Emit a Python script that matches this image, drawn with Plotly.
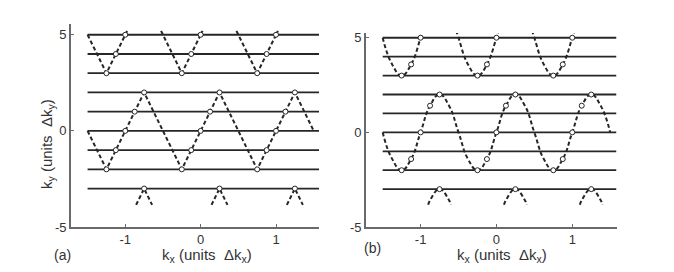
import plotly.graph_objects as go

# ---- data ----
grid_ky = [5, 4, 3, 2, 1, 0, -1, -2, -3]
grid_kx_start = -1.5
grid_kx_end = 1.58

# (a) triangular trajectory (vertices)
a_main_kx = [-1.5, -1.25, -0.75, -0.25, 0.25, 0.75, 1.25, 1.5]
a_main_ky = [0, -2, 2, -2, 2, -2, 2, 0]
a_up_kx = [-1.5, -1.25, -0.975, None, -0.525, -0.25, 0.025, None, 0.475, 0.75, 1.025]
a_up_ky = [5, 3, 5.2, None, 5.2, 3, 5.2, None, 5.2, 3, 5.2]
a_lo_kx = [-0.856, -0.75, -0.644, None, 0.144, 0.25, 0.356, None, 1.144, 1.25, 1.356]
a_lo_ky = [-3.85, -3, -3.85, None, -3.85, -3, -3.85, None, -3.85, -3, -3.85]
a_pts_kx = [-1.25, -1.125, -1.0, -0.875, -0.75, -0.25, -0.125, 0.0, 0.125, 0.25,
            0.75, 0.875, 1.0, 1.125, 1.25,
            -1.25, -1.125, -1.0, -0.25, -0.125, 0.0, 0.75, 0.875, 1.0,
            -0.75, 0.25, 1.25]
a_pts_ky = [-2, -1, 0, 1, 2, -2, -1, 0, 1, 2, -2, -1, 0, 1, 2,
            3, 4, 5, 3, 4, 5, 3, 4, 5,
            -3, -3, -3]

# (b) sinusoidal trajectory
b_main_kx = [-1.5, -1.375, -1.25, -1.125, -1.0, -0.875, -0.75, -0.625, -0.5,
             -0.375, -0.25, -0.125, 0.0, 0.125, 0.25, 0.375, 0.5,
             0.625, 0.75, 0.875, 1.0, 1.125, 1.25, 1.375, 1.5]
b_main_ky = [0, -1.41, -2, -1.41, 0, 1.41, 2, 1.41, 0,
             -1.41, -2, -1.41, 0, 1.41, 2, 1.41, 0,
             -1.41, -2, -1.41, 0, 1.41, 2, 1.41, 0]
b_up_segs_kx = [[-1.5, -1.375, -1.25, -1.125, -1.0, -0.97],
                [-0.53, -0.5, -0.375, -0.25, -0.125, 0.0, 0.03],
                [0.47, 0.5, 0.625, 0.75, 0.875, 1.0, 1.03]]
b_up_segs_ky = [[5, 3.59, 3, 3.59, 5, 5.37],
                [5.37, 5, 3.59, 3, 3.59, 5, 5.37],
                [5.37, 5, 3.59, 3, 3.59, 5, 5.37]]
b_lo_segs_kx = [[-0.9, -0.875, -0.75, -0.625, -0.6],
                [0.1, 0.125, 0.25, 0.375, 0.4],
                [1.1, 1.125, 1.25, 1.375, 1.4]]
b_lo_segs_ky = [[-3.82, -3.59, -3, -3.59, -3.82]] * 3
b_pts_kx = [-1.25, -1.125, -1.0, -0.875, -0.75, -0.25, -0.125, 0.0, 0.125, 0.25,
            0.75, 0.875, 1.0, 1.125, 1.25,
            -1.25, -1.125, -1.0, -0.25, -0.125, 0.0, 0.75, 0.875, 1.0,
            -0.75, 0.25, 1.25]
b_pts_ky = [-2, -1.41, 0, 1.41, 2, -2, -1.41, 0, 1.41, 2, -2, -1.41, 0, 1.41, 2,
            3, 3.59, 5, 3, 3.59, 5, 3, 3.59, 5,
            -3, -3, -3]

tick_x = [-1, 0, 1]
tick_x_text = ["-1", "0", "1"]
tick_y = [-5, 0, 5]
tick_y_text = ["-5", "0", "5"]

# ---- styles ----
INK = "#262626"
AXIS = "#6a6a6a"
TXT = "#333333"
FONT = "Liberation Sans"
DASH = "4px,2.6px"

fig = go.Figure()

def grid(xa, ya):
    xs, ys = [], []
    for k in grid_ky:
        xs += [grid_kx_start, grid_kx_end, None]
        ys += [k, k, None]
    fig.add_trace(go.Scatter(x=xs, y=ys, mode="lines", xaxis=xa, yaxis=ya,
                             line=dict(color=INK, width=1.8), hoverinfo="skip",
                             showlegend=False))

def dashed(xs, ys, xa, ya, shape="linear"):
    fig.add_trace(go.Scatter(x=xs, y=ys, mode="lines", xaxis=xa, yaxis=ya,
                             line=dict(color=INK, width=2, dash=DASH, shape=shape,
                                       smoothing=1.3 if shape == "spline" else None),
                             showlegend=False, hoverinfo="skip"))

def points(xs, ys, xa, ya):
    fig.add_trace(go.Scatter(x=xs, y=ys, mode="markers", xaxis=xa, yaxis=ya,
                             marker=dict(symbol="circle", size=5, color="white",
                                         line=dict(color=INK, width=1)),
                             showlegend=False, hoverinfo="skip"))

# panel (a)
grid("x", "y")
dashed(a_main_kx, a_main_ky, "x", "y")
dashed(a_up_kx, a_up_ky, "x", "y")
dashed(a_lo_kx, a_lo_ky, "x", "y")
points(a_pts_kx, a_pts_ky, "x", "y")

# panel (b)
grid("x2", "y2")
dashed(b_main_kx, b_main_ky, "x2", "y2", "spline")
for sx, sy in zip(b_up_segs_kx, b_up_segs_ky):
    dashed(sx, sy, "x2", "y2", "spline")
for sx, sy in zip(b_lo_segs_kx, b_lo_segs_ky):
    dashed(sx, sy, "x2", "y2", "spline")
points(b_pts_kx, b_pts_ky, "x2", "y2")

# the page body adds an 8 px offset; work in screen pixels and convert
OFF = 8
W, H = 674 - OFF, 272 - OFF

def px(x):
    return (x - OFF) / W

def py(y):
    return 1 - (y - OFF) / H

axis_common = dict(showline=True, linecolor=AXIS, linewidth=1.6, mirror=False,
                   showgrid=False, zeroline=False, ticks="inside", ticklen=3,
                   tickwidth=1.2, tickcolor=AXIS, automargin=False,
                   tickfont=dict(family=FONT, size=13, color=TXT))

def label(text, x, y, angle=0, size=14):
    return dict(text=text, x=px(x), y=py(y), xref="paper", yref="paper",
                xanchor="center", yanchor="middle", showarrow=False,
                textangle=angle, font=dict(family=FONT, size=size, color=TXT))

fig.update_layout(
    width=W, height=H,
    margin=dict(l=0, r=0, t=0, b=0),
    paper_bgcolor="white", plot_bgcolor="white",
    template="none",
    xaxis=dict(domain=[px(71), px(319)], range=[-1.72, 1.57], anchor="y",
               tickvals=tick_x, ticktext=tick_x_text, **axis_common),
    yaxis=dict(domain=[py(227), py(24)], range=[-5, 5.56], anchor="x",
               tickvals=tick_y, ticktext=tick_y_text, **axis_common),
    xaxis2=dict(domain=[px(366), px(617)], range=[-1.72, 1.59], anchor="y2",
                tickvals=tick_x, ticktext=tick_x_text, **axis_common),
    yaxis2=dict(domain=[py(227), py(33)], range=[-5, 5.25], anchor="x2",
                tickvals=tick_y, ticktext=tick_y_text, **axis_common),
    annotations=[
        label("k<sub>y</sub> (units&nbsp;&nbsp;Δk<sub>y</sub>)", 47, 144, -90, 15),
        label("k<sub>x</sub> (units&nbsp;&nbsp;Δk<sub>x</sub>)", 207, 255, 0, 15),
        label("k<sub>x</sub> (units&nbsp;&nbsp;Δk<sub>x</sub>)", 502, 255, 0, 15),
        label("(a)", 62, 255),
        label("(b)", 372, 248),
    ],
)

fig.write_html("out.html")
